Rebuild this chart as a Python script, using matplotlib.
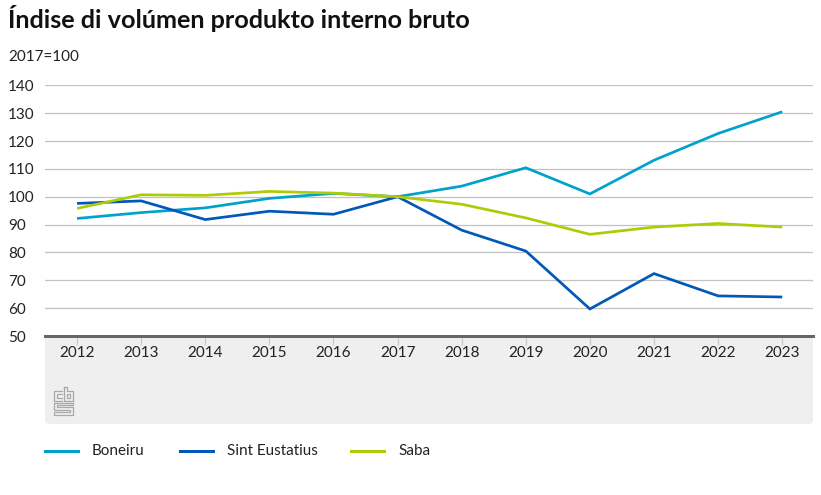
import matplotlib
matplotlib.use("Agg")
import matplotlib.pyplot as plt
from matplotlib.patches import FancyBboxPatch, Rectangle
from matplotlib.lines import Line2D

years = [2012, 2013, 2014, 2015, 2016, 2017, 2018, 2019, 2020, 2021, 2022, 2023]
boneiru = [92.2, 94.3, 96.0, 99.4, 101.2, 100.0, 103.8, 110.4, 101.0, 113.1, 122.7, 130.5]
sint_eustatius = [97.6, 98.5, 91.8, 94.8, 93.7, 100.0, 88.0, 80.5, 59.7, 72.4, 64.4, 64.0]
saba = [95.8, 100.7, 100.5, 101.9, 101.3, 100.0, 97.3, 92.4, 86.5, 89.1, 90.4, 89.1]
series_names = ["Boneiru", "Sint Eustatius", "Saba"]
colors = ["#00a1cd", "#0058b8", "#afcb05"]
yticks = [50, 60, 70, 80, 90, 100, 110, 120, 130, 140]

title = "Índise di volúmen produkto interno bruto"
unit = "2017=100"

W, H = 821, 495
PT = 72 / 100  # points per pixel
plt.rcParams['font.family'] = ['Lato', 'DejaVu Sans']

fig = plt.figure(figsize=(W / 100, H / 100), dpi=100)

def fx(px):
    return px / W

def fy(py):
    return 1 - py / H

# grey panel below axis
panel = FancyBboxPatch((fx(45), fy(424)), fx(813) - fx(45), fy(336) - fy(424),
                       boxstyle="round,pad=0,rounding_size=0.006",
                       transform=fig.transFigure, facecolor="#efefef",
                       edgecolor="none", zorder=-5)
fig.add_artist(panel)

ax = fig.add_axes([fx(45), fy(336), fx(813) - fx(45), fy(85.3) - fy(336)])
ax.set_zorder(2)
ax.set_facecolor("none")
ax.set_xlim(2011.5, 2023.48)
ax.set_ylim(50, 140)

for v in yticks[1:]:
    ax.axhline(v, color="#c3c3c3", lw=1.3 * PT, zorder=1)

for vals, c in zip([boneiru, sint_eustatius, saba], colors):
    ax.plot(years, vals, color=c, lw=2.7 * PT, zorder=3, solid_capstyle="butt",
            solid_joinstyle="miter")

for s in ax.spines.values():
    s.set_visible(False)
ax.axhline(50, color="#666666", lw=3 * PT, zorder=4, clip_on=False)

ax.set_yticks(yticks)
ax.set_yticklabels([str(v) for v in yticks])
ax.tick_params(axis="y", length=0, labelsize=11, labelcolor="#222222",
               pad=37 * PT)
for lab in ax.get_yticklabels():
    lab.set_horizontalalignment("left")

ax.set_xticks(years)
ax.set_xticklabels([str(y) for y in years])
ax.tick_params(axis="x", length=9 * PT, width=1.2 * PT, color="#c8c8c8",
               labelsize=11, labelcolor="#222222", pad=1 * PT)

fig.text(fx(8), fy(18), title, fontsize=18.2, fontweight="bold", color="#111111",
         ha="left", va="center")
fig.text(fx(8), fy(57), unit, fontsize=11, color="#222222", ha="left", va="center")

# legend
lx = [45, 180, 351]
for x0, name, c in zip(lx, series_names, colors):
    fig.add_artist(Line2D([fx(x0), fx(x0 + 33)], [fy(451), fy(451)], color=c,
                          lw=3 * PT, transform=fig.transFigure))
    fig.text(fx(x0 + 47), fy(451), name, fontsize=11, color="#222222",
             ha="left", va="center")

# simple CBS logo outline
lc = "#a8a8a8"
def rect(x0, y0, x1, y1):
    fig.add_artist(Rectangle((fx(x0), fy(y1)), fx(x1) - fx(x0), fy(y0) - fy(y1),
                             transform=fig.transFigure, fill=False,
                             edgecolor=lc, lw=0.9))
def poly(pts):
    fig.add_artist(Line2D([fx(p[0]) for p in pts], [fy(p[1]) for p in pts],
                          transform=fig.transFigure, color=lc, lw=0.9))
# c
poly([(62, 391), (54, 391), (54, 401), (62, 401)])
poly([(62, 394), (57, 394), (57, 398), (62, 398)])
# b
poly([(64, 387), (64, 401), (73, 401), (73, 391), (67, 391), (67, 387), (64, 387)])
rect(67, 394, 70, 398)
# s
poly([(73, 403), (54, 403), (54, 410), (70, 410), (70, 412), (54, 412), (54, 415),
      (73, 415), (73, 407), (57, 407), (57, 405), (73, 405), (73, 403)])

fig.savefig("out.png", dpi=100)
